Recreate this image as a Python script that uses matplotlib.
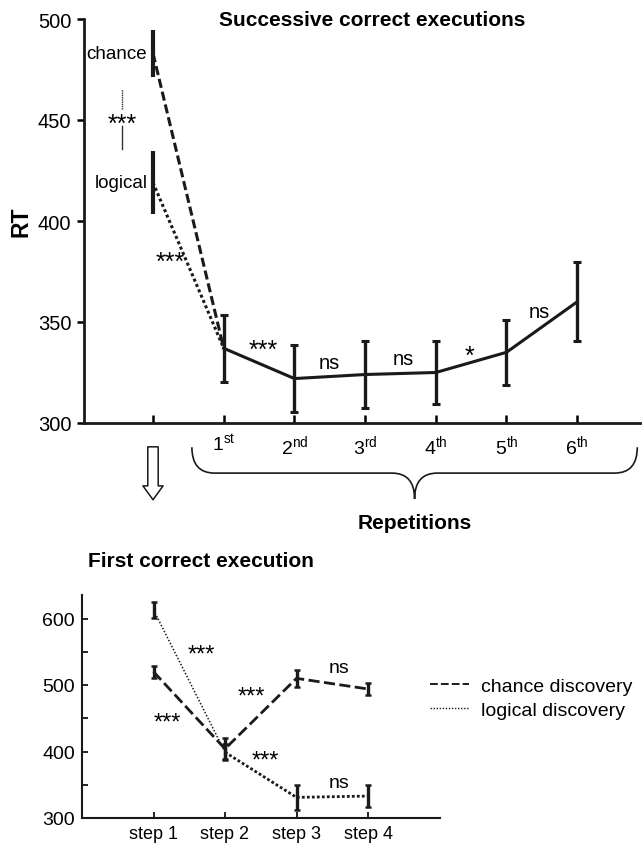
import matplotlib
matplotlib.use('Agg')
import matplotlib.pyplot as plt
from matplotlib.path import Path
from matplotlib.patches import PathPatch

plt.rcParams['font.family'] = ['Liberation Sans', 'DejaVu Sans']
plt.rcParams['mathtext.fontset'] = 'custom'
plt.rcParams['mathtext.rm'] = 'Liberation Sans'
plt.rcParams['mathtext.it'] = 'Liberation Sans:italic'
plt.rcParams['mathtext.bf'] = 'Liberation Sans:bold'

# ---------------- data: top panel ----------------
discovery_labels = ['chance', 'logical']
discovery_rt = [483, 419]
discovery_err = [11.5, 15.5]
rep_ticklabels = ['', r'1$^{\mathrm{st}}$', r'2$^{\mathrm{nd}}$', r'3$^{\mathrm{rd}}$',
                  r'4$^{\mathrm{th}}$', r'5$^{\mathrm{th}}$', r'6$^{\mathrm{th}}$']
rep_rt = [337, 322, 324, 325, 335, 360]
rep_err = [16.5, 16.5, 16.5, 15.5, 16, 19.5]
rep_sig = ['***', 'ns', 'ns', '*', 'ns']
top_yticks = [300, 350, 400, 450, 500]

# ---------------- data: bottom panel ----------------
steps = ['step 1', 'step 2', 'step 3', 'step 4']
chance_rt = [520, 404, 510, 494]
chance_err = [9, 16, 13, 9]
logical_rt = [613, 399, 331, 333]
logical_err = [12.5, 12, 19, 17]
legend_labels = ['chance discovery', 'logical discovery']
bottom_yticks = [300, 350, 400, 450, 500, 550, 600]
bottom_yticklabels = ['300', '', '400', '', '500', '', '600']

W, H = 642, 845
fig = plt.figure(figsize=(W / 100, H / 100), dpi=100)

def px_axes(l, t, r, b):
    return fig.add_axes([l / W, 1 - b / H, (r - l) / W, (b - t) / H])

K = '#1a1a1a'
# =============== TOP PANEL ===============
ax = px_axes(84, 20, 640, 424)
x0 = -(153 - 84) / 70.7
x1 = x0 + (640 - 84) / 70.7
ax.set_xlim(x0, x1)
ax.set_ylim(300, 500)
for s in ['top', 'right']:
    ax.spines[s].set_visible(False)
for s in ['left', 'bottom']:
    ax.spines[s].set_linewidth(2.0)
    ax.spines[s].set_color(K)

rx = list(range(1, len(rep_rt) + 1))
ax.errorbar(rx, rep_rt, yerr=rep_err, color=K, lw=2.2, elinewidth=2.4,
            capsize=3.2, capthick=2.2, zorder=3)
ax.plot([0, 1], [discovery_rt[0], rep_rt[0]], color=K, lw=2.2,
        ls=(0, (3, 1.3)), zorder=3)
ax.plot([0, 1], [discovery_rt[1], rep_rt[0]], color=K, lw=2.2,
        ls=(0, (1, 0.9)), zorder=3)
ax.errorbar([0, 0], discovery_rt, yerr=discovery_err, fmt='none', ecolor=K,
            elinewidth=3.0, capsize=0, zorder=3)

ax.set_xticks(range(0, 7))
ax.set_xticklabels(rep_ticklabels, fontsize=14)
ax.set_yticks(top_yticks)
ax.tick_params(axis='x', direction='in', length=6, width=1.8, pad=7)
ax.tick_params(axis='y', direction='out', length=5, width=1.8, labelsize=14.5, pad=4)
ax.set_ylabel('RT', fontsize=16.5, fontweight='bold', labelpad=4)

ax.text(-0.09, discovery_rt[0], discovery_labels[0], ha='right', va='center', fontsize=13.5)
ax.text(-0.08, discovery_rt[1], discovery_labels[1], ha='right', va='center', fontsize=13.5)
ax.text(-0.44, 448, '***', ha='center', va='center', fontsize=18)
ax.plot([-0.445, -0.445], [455.5, 465.5], color='#333333', lw=1.0, ls=(0, (1, 0.6)))
ax.plot([-0.445, -0.445], [435.5, 447], color='#333333', lw=1.0)
ax.text(0.25, 380, '***', ha='center', va='center', fontsize=18)

sig_pos = [(1.56, 336), (2.5, 330), (3.54, 332), (4.47, 333), (5.46, 355)]
for (sx_, sy_), lab in zip(sig_pos, rep_sig):
    ax.text(sx_, sy_, lab, ha='center', va='center',
            fontsize=18 if '*' in lab else 14.5)

ax.text(0.518, 1.0, 'Successive correct executions', transform=ax.transAxes,
        ha='center', va='center', fontsize=15, fontweight='bold')

# brace under repetitions
yt, yh, ytip = 288.0, 275.2, 262.4
bl, br = 0.55, 6.85
bm = (bl + br) / 2
r = 0.32
verts = [(bl, yt), (bl, yh), (bl + r, yh),
         (bm - r, yh), (bm, yh), (bm, ytip),
         (bm, yh), (bm + r, yh),
         (br - r, yh), (br, yh), (br, yt)]
codes = [Path.MOVETO, Path.CURVE3, Path.CURVE3,
         Path.LINETO, Path.CURVE3, Path.CURVE3,
         Path.CURVE3, Path.CURVE3,
         Path.LINETO, Path.CURVE3, Path.CURVE3]
ax.add_patch(PathPatch(Path(verts, codes), fc='none', ec=K, lw=1.2, clip_on=False))
ax.text(bm, 250.5, 'Repetitions', ha='center', va='center', fontsize=15, fontweight='bold')

# hollow down arrow
ax.annotate('', xy=(0, 262.0), xytext=(0, 288.2), xycoords='data',
            arrowprops=dict(arrowstyle='simple,head_length=1.0,head_width=1.45,tail_width=0.75',
                            mutation_scale=10, fc='white', ec=K, lw=1.1,
                            shrinkA=0, shrinkB=0), annotation_clip=False)

# =============== BOTTOM PANEL ===============
bx = px_axes(82, 819 - 336 * 0.665, 82 + 5 * 71.5, 819)
bx.set_xlim(0, 5)
bx.set_ylim(300, 636)
for s in ['top', 'right']:
    bx.spines[s].set_visible(False)
for s in ['left', 'bottom']:
    bx.spines[s].set_linewidth(1.5)
    bx.spines[s].set_color(K)

sx = list(range(1, len(steps) + 1))
bx.plot(sx, chance_rt, color=K, lw=2.0, ls=(0, (4, 1.6)), zorder=3)
bx.plot(sx[:2], logical_rt[:2], color=K, lw=1.1, ls=(0, (1, 1.2)), zorder=3)
bx.plot(sx[1:], logical_rt[1:], color=K, lw=2.0, ls=(0, (1, 0.8)), zorder=3)
bx.errorbar(sx, chance_rt, yerr=chance_err, fmt='none', ecolor=K,
            elinewidth=2.4, capsize=2.2, capthick=1.8, zorder=4)
bx.errorbar(sx, logical_rt, yerr=logical_err, fmt='none', ecolor=K,
            elinewidth=2.4, capsize=2.2, capthick=1.8, zorder=4)

bx.set_xticks(sx)
bx.set_xticklabels(steps, fontsize=13)
bx.set_yticks(bottom_yticks)
bx.set_yticklabels(bottom_yticklabels, fontsize=14)
bx.tick_params(axis='x', direction='in', length=4, width=1.2, pad=5)
bx.tick_params(axis='y', direction='in', length=4, width=1.2, pad=5)

bsig = [(1.67, 546, '***'), (2.37, 483, '***'), (1.19, 443, '***'),
        (2.57, 387, '***'), (3.59, 527, 'ns'), (3.59, 354, 'ns')]
for tx, ty, lab in bsig:
    bx.text(tx, ty, lab, ha='center', va='center',
            fontsize=17 if '*' in lab else 14)

fig.text(88 / W, 1 - 562 / H, 'First correct execution', ha='left', va='center',
         fontsize=15, fontweight='bold')

h_chance = plt.Line2D([], [], color=K, lw=1.4, ls=(0, (4, 1.6)))
h_logical = plt.Line2D([], [], color=K, lw=1.0, ls=(0, (1, 1.2)))
bx.legend([h_chance, h_logical], legend_labels, frameon=False, fontsize=14,
          loc='center left', bbox_to_anchor=(430 / W, 1 - 699 / H),
          bbox_transform=fig.transFigure, handlelength=2.0, handletextpad=0.6,
          labelspacing=0.35, borderpad=0, borderaxespad=0)

fig.savefig('out.png', dpi=100)
